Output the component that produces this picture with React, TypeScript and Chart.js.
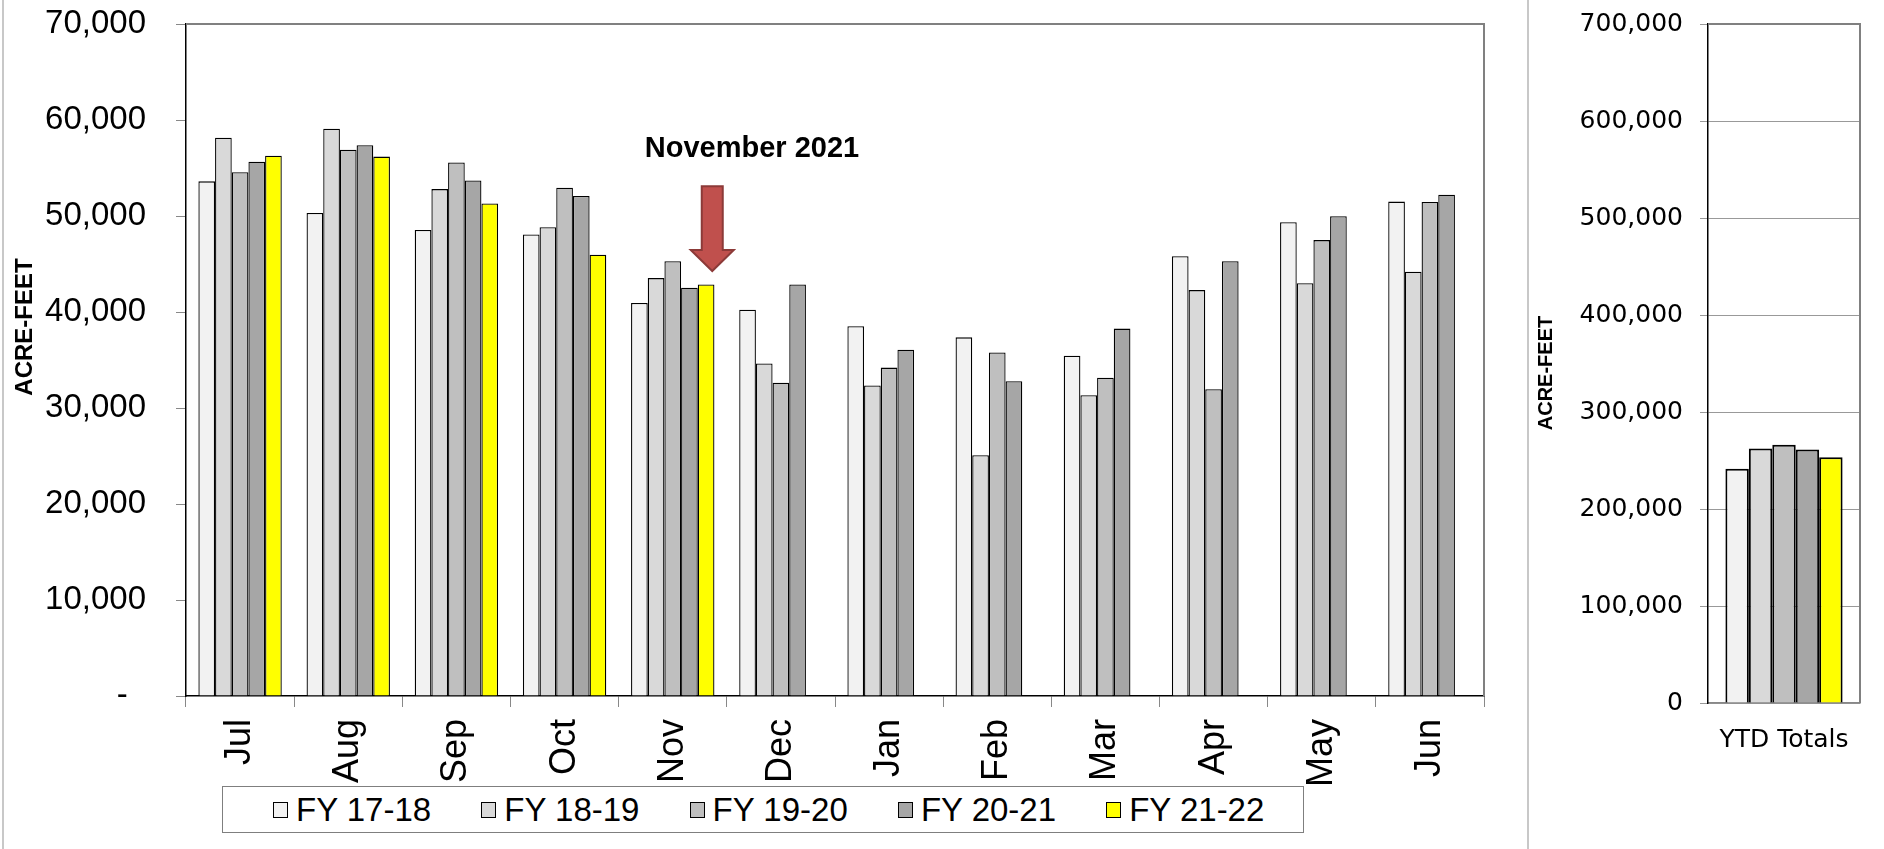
import React, { useEffect, useRef } from 'react';
import { Chart, registerables } from 'chart.js';

Chart.register(...registerables);

const months = ['Jul', 'Aug', 'Sep', 'Oct', 'Nov', 'Dec', 'Jan', 'Feb', 'Mar', 'Apr', 'May', 'Jun'];
const seriesLabels = ['FY 17-18', 'FY 18-19', 'FY 19-20', 'FY 20-21', 'FY 21-22'];
const seriesColors = ['#F2F2F2', '#D9D9D9', '#BFBFBF', '#A6A6A6', '#FFFF00'];

const fy1718 = [53610, 50310, 48540, 48070, 40950, 40230, 38510, 37360, 35450, 45820, 49350, 51500];
const fy1819 = [58150, 59100, 52800, 48830, 43530, 34640, 32350, 25080, 31340, 42280, 43000, 44190];
const fy1920 = [54560, 56900, 55570, 52940, 45290, 32630, 34210, 35790, 33160, 31960, 47490, 51460];
const fy2021 = [55660, 57380, 53700, 52080, 42520, 42860, 36070, 32780, 38270, 45290, 49980, 52220];
const fy2122 = [56280, 56190, 51310, 45960, 42860, null, null, null, null, null, null, null];

const ytdCategory = ['YTD Totals'];
const ytdTotals = [241400, 262400, 266200, 261400, 253300];

const annotationText = 'November 2021';
const axisTitle = 'ACRE-FEET';

const SANS = '"Liberation Sans", Arial, sans-serif';
const WIDE = '"DejaVu Sans", Verdana, sans-serif';

const monthlySeries = [fy1718, fy1819, fy1920, fy2021, fy2122];

function MonthlyChart() {
  const ref = useRef<HTMLCanvasElement>(null);
  useEffect(() => {
    const W = 1520;
    const H = 790;
    const decor = {
      id: 'decor',
      afterDraw(chart: any) {
        const { ctx, chartArea, scales } = chart;
        ctx.save();
        ctx.strokeStyle = '#808080';
        ctx.lineWidth = 2;
        ctx.beginPath();
        ctx.moveTo(chartArea.left, chartArea.top);
        ctx.lineTo(chartArea.right, chartArea.top);
        ctx.lineTo(chartArea.right, chartArea.bottom);
        ctx.stroke();
        ctx.fillStyle = '#000';
        ctx.font = `bold 24px ${SANS}`;
        ctx.textAlign = 'center';
        ctx.textBaseline = 'middle';
        ctx.translate(25, 327);
        ctx.rotate(-Math.PI / 2);
        ctx.fillText(axisTitle, 0, 0);
        ctx.restore();

        const x = scales.x;
        const y = scales.y;
        const cx = x.getPixelForValue(4);
        ctx.save();
        ctx.fillStyle = '#000';
        ctx.font = `bold 29px ${SANS}`;
        ctx.textAlign = 'left';
        ctx.textBaseline = 'middle';
        ctx.fillText(annotationText, cx - 28, y.getPixelForValue(57000));
        const top = y.getPixelForValue(53100);
        const headY = y.getPixelForValue(46460);
        const tipY = y.getPixelForValue(44270);
        ctx.beginPath();
        ctx.moveTo(cx + 29, top);
        ctx.lineTo(cx + 50, top);
        ctx.lineTo(cx + 50, headY);
        ctx.lineTo(cx + 61, headY);
        ctx.lineTo(cx + 39.5, tipY);
        ctx.lineTo(cx + 18, headY);
        ctx.lineTo(cx + 29, headY);
        ctx.closePath();
        ctx.fillStyle = '#C0504D';
        ctx.fill();
        ctx.strokeStyle = '#8C3A38';
        ctx.lineWidth = 2;
        ctx.stroke();
        ctx.restore();
      },
    };
    const chart = new Chart(ref.current!, {
      type: 'bar',
      data: {
        labels: months,
        datasets: monthlySeries.map((d, i) => ({
          label: seriesLabels[i],
          data: d,
          backgroundColor: seriesColors[i],
          borderColor: '#000',
          borderWidth: 1.3,
          categoryPercentage: 0.771,
          barPercentage: 1,
        })),
      },
      options: {
        responsive: false,
        maintainAspectRatio: false,
        animation: false,
        devicePixelRatio: 1,
        layout: { padding: { top: 24, right: W - 1484, left: 0, bottom: 0 } },
        plugins: { legend: { display: false }, tooltip: { enabled: false } },
        scales: {
          x: {
            grid: { display: true, drawOnChartArea: false, tickLength: 11, color: '#888', offset: true },
            border: { color: '#000', width: 1.5 },
            ticks: {
              font: { size: 36, family: SANS },
              color: '#000',
              minRotation: 90,
              maxRotation: 90,
              autoSkip: false,
              padding: 12,
            },
            afterFit: (s: any) => {
              s.height = H - 696;
            },
          },
          y: {
            min: 0,
            max: 70000,
            ticks: {
              stepSize: 10000,
              font: { size: 33, family: SANS },
              color: '#000',
              padding: 30,
              callback: (v: any) => (Number(v) === 0 ? '-  ' : Number(v).toLocaleString('en-US')),
            },
            grid: { drawOnChartArea: false, tickLength: 10, color: '#888' },
            border: { color: '#000', width: 1.5 },
            afterFit: (s: any) => {
              s.width = 186;
              s.paddingTop = 0;
              s.paddingBottom = 0;
            },
          },
        },
      },
      plugins: [decor],
    } as any);
    return () => chart.destroy();
  }, []);
  return (
    <canvas
      ref={ref}
      width={1520}
      height={790}
      style={{ position: 'absolute', left: 0, top: 0, width: 1520, height: 790 }}
    />
  );
}

function YtdChart() {
  const ref = useRef<HTMLCanvasElement>(null);
  useEffect(() => {
    const W = 354;
    const H = 849;
    const decor = {
      id: 'decorYtd',
      afterDraw(chart: any) {
        const { ctx, chartArea } = chart;
        ctx.save();
        ctx.strokeStyle = '#808080';
        ctx.lineWidth = 2;
        ctx.beginPath();
        ctx.moveTo(chartArea.left, chartArea.top);
        ctx.lineTo(chartArea.right, chartArea.top);
        ctx.lineTo(chartArea.right, chartArea.bottom);
        ctx.stroke();
        ctx.fillStyle = '#000';
        ctx.font = `bold 20px ${SANS}`;
        ctx.textAlign = 'center';
        ctx.textBaseline = 'middle';
        ctx.translate(16, 373);
        ctx.rotate(-Math.PI / 2);
        ctx.fillText(axisTitle, 0, 0);
        ctx.restore();
      },
    };
    const chart = new Chart(ref.current!, {
      type: 'bar',
      data: {
        labels: ytdCategory,
        datasets: ytdTotals.map((v, i) => ({
          label: seriesLabels[i],
          data: [v],
          backgroundColor: seriesColors[i],
          borderColor: '#000',
          borderWidth: 2,
          categoryPercentage: 0.771,
          barPercentage: 1,
        })),
      },
      options: {
        responsive: false,
        maintainAspectRatio: false,
        animation: false,
        devicePixelRatio: 1,
        layout: { padding: { top: 24, right: W - (1860 - 1530), left: 0, bottom: 0 } },
        plugins: { legend: { display: false }, tooltip: { enabled: false } },
        scales: {
          x: {
            grid: { display: false },
            border: { color: '#888', width: 1.5 },
            ticks: { font: { size: 25, family: WIDE }, color: '#000', padding: 14 },
            afterFit: (s: any) => {
              s.height = H - 703;
            },
          },
          y: {
            min: 0,
            max: 700000,
            ticks: {
              stepSize: 100000,
              font: { size: 25, family: WIDE },
              color: '#000',
              padding: 17,
              callback: (v: any) => Number(v).toLocaleString('en-US'),
            },
            grid: { color: '#999', tickLength: 8, lineWidth: 1 },
            border: { color: '#000', width: 1.5 },
            afterFit: (s: any) => {
              s.width = 1708 - 1530;
              s.paddingTop = 0;
              s.paddingBottom = 0;
            },
          },
        },
      },
      plugins: [decor],
    } as any);
    return () => chart.destroy();
  }, []);
  return (
    <canvas
      ref={ref}
      width={354}
      height={849}
      style={{ position: 'absolute', left: 1530, top: 0, width: 354, height: 849 }}
    />
  );
}

function Legend() {
  return (
    <div
      style={{
        position: 'absolute',
        left: 222,
        top: 786,
        width: 1082,
        height: 47,
        boxSizing: 'border-box',
        border: '1.5px solid #7F7F7F',
        background: '#fff',
      }}
    >
      {seriesLabels.map((label, i) => (
        <div
          key={label}
          style={{
            position: 'absolute',
            left: 50 + i * 208.3,
            top: 0,
            height: '100%',
            display: 'flex',
            alignItems: 'center',
            whiteSpace: 'nowrap',
          }}
        >
          <span
            style={{
              display: 'inline-block',
              width: 15,
              height: 16,
              boxSizing: 'border-box',
              border: '1px solid #000',
              background: seriesColors[i],
              marginRight: 8,
            }}
          />
          <span style={{ fontFamily: SANS, fontSize: 33, color: '#000', lineHeight: '36px' }}>{label}</span>
        </div>
      ))}
    </div>
  );
}

export default function App() {
  return (
    <div
      style={{
        position: 'absolute',
        left: 0,
        top: 0,
        width: 1884,
        height: 849,
        background: '#fff',
        overflow: 'hidden',
      }}
    >
      <div style={{ position: 'absolute', left: 2, top: 0, width: 2, height: 849, background: '#C8C8C8' }} />
      <div style={{ position: 'absolute', left: 1527, top: 0, width: 2, height: 849, background: '#C8C8C8' }} />
      <MonthlyChart />
      <YtdChart />
      <Legend />
    </div>
  );
}
